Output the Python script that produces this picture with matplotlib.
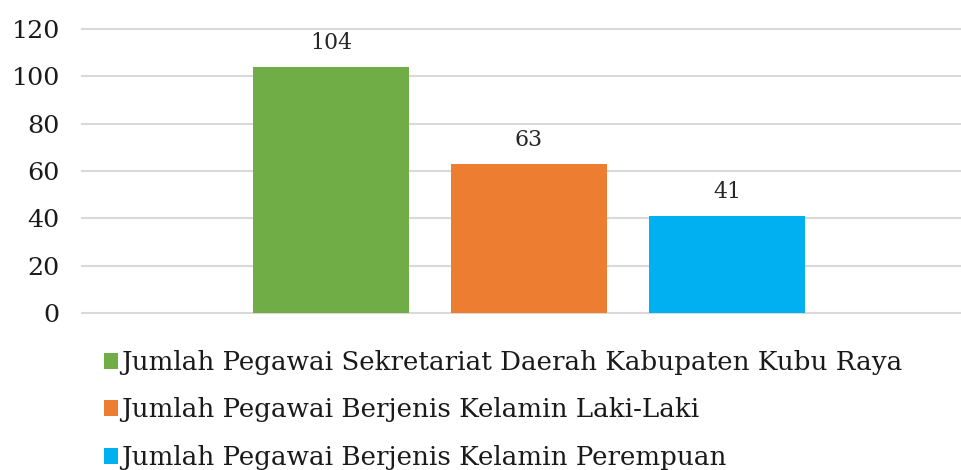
import matplotlib
matplotlib.use("Agg")
import matplotlib.pyplot as plt

series = ["Jumlah Pegawai Sekretariat Daerah Kabupaten Kubu Raya",
          "Jumlah Pegawai Berjenis Kelamin Laki-Laki",
          "Jumlah Pegawai Berjenis Kelamin Perempuan"]
values = [104, 63, 41]
colors = ["#70AD47", "#ED7D31", "#00B0F0"]
yticks = [0, 20, 40, 60, 80, 100, 120]

plt.rcParams['font.family'] = ['DejaVu Serif']

fig = plt.figure(figsize=(9.61, 4.70), dpi=100)
W, H = 961, 470
ax = fig.add_axes([82 / W, 1 - 313 / H, (961 - 82) / W, (313 - 29) / H])

positions = [-1, 0, 1]
bars = []
for p, v, c, s in zip(positions, values, colors, series):
    b = ax.bar(p, v, width=156 / 198, color=c, label=s, zorder=3)
    bars.append(b)
    ax.annotate(str(v), xy=(p, v), xytext=(0, 13.2), textcoords='offset points',
                ha='center', va='baseline', fontsize=15.8, color='#262626')

ax.set_xlim((82 - 529) / 198, (961 - 529) / 198)
ax.set_ylim(0, 120)
ax.set_yticks(yticks)
ax.set_yticklabels([str(t) for t in yticks], fontsize=18.3, color='#1a1a1a')
ax.tick_params(axis='y', length=0, pad=16)
ax.set_xticks([])
for t in yticks:
    ax.axhline(t, color='#D9D9D9', linewidth=1.5, zorder=0, clip_on=False)
for sp in ax.spines.values():
    sp.set_visible(False)

leg = fig.legend(handles=[b[0] for b in bars], labels=series,
                 loc='upper left', bbox_to_anchor=(104 / W, 1 - 350 / H),
                 frameon=False, fontsize=18.8, handlelength=0.55, handleheight=0.55,
                 handletextpad=0.12, labelspacing=0.86, borderaxespad=0, borderpad=0)
for t in leg.get_texts():
    t.set_color('#1a1a1a')

fig.savefig("out.png", dpi=100)
